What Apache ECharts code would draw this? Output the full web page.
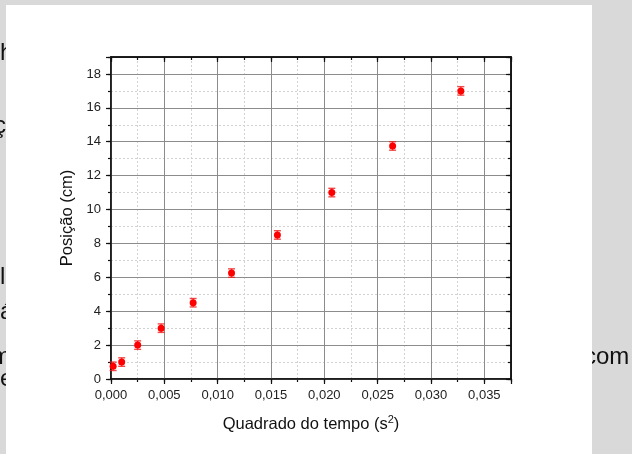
<!DOCTYPE html>
<html>
<head>
<meta charset="utf-8">
<script src="https://cdn.jsdelivr.net/npm/echarts@6/dist/echarts.min.js"></script>
<style>
html, body { margin: 0; padding: 0; background: #d9d9d9; }
#chart { width: 632px; height: 454px; }
</style>
</head>
<body>
<div id="chart"></div>
<script>
// quadrado do tempo (s^2) vs posicao (cm)
var tSquared = [0.0002, 0.001, 0.0025, 0.0047, 0.0077, 0.0113, 0.0156, 0.0207, 0.0264, 0.0328];
var position = [0.75, 1.0, 2.0, 3.0, 4.5, 6.25, 8.5, 11.0, 13.75, 17.0];
var positionErr = [0.25, 0.25, 0.25, 0.25, 0.25, 0.25, 0.25, 0.25, 0.25, 0.25];

// bits of the document text peeking out behind the figure
var pageBits = [
    { text: 'h', x: 0, y: 65 },
    { text: 'ç', x: -6, y: 138 },
    { text: 'le', x: 0, y: 289 },
    { text: 'á', x: 0, y: 324 },
    { text: 'm', x: -9, y: 369 },
    { text: 'e', x: 0, y: 391 },
    { text: 'com', x: 584, y: 369 }
];

var chartDom = document.getElementById('chart');
var myChart = echarts.init(chartDom);

var font = "'Liberation Sans', Arial, sans-serif";

var fmtX = function (v) {
    if (v > 0.036) return '';
    return v.toFixed(3).replace('.', ',');
};
var fmtY = function (v) {
    if (v > 18.5) return '';
    return String(v);
};

function frameAxis(pos, interval, max, tickLen, inside, z) {
    return {
        type: 'value',
        position: pos,
        min: 0,
        max: max,
        interval: interval,
        z: z,
        axisLine: { show: true, onZero: false, lineStyle: { color: '#111', width: 1.5 } },
        axisTick: { show: true, inside: inside, length: tickLen, lineStyle: { color: '#111', width: 1.2 } },
        axisLabel: { show: false },
        splitLine: { show: false }
    };
}

var xMajor = frameAxis('bottom', 0.005, 0.0375, 5, false, 2);
xMajor.axisLabel = { show: true, margin: 10, fontSize: 13, color: '#222', fontFamily: font, formatter: fmtX };
xMajor.splitLine = { show: true, lineStyle: { color: '#8c8c8c', width: 1 } };
xMajor.name = 'Quadrado do tempo (s{sup|2})';
xMajor.nameLocation = 'middle';
xMajor.nameGap = 35;
xMajor.nameTextStyle = {
    fontSize: 16.5, color: '#111', fontFamily: font, lineHeight: 20,
    rich: { sup: { fontSize: 11, color: '#111', fontFamily: font, verticalAlign: 'top', lineHeight: 11 } }
};

var xMinor = frameAxis('bottom', 0.0025, 0.0375, 3, false, 1);
xMinor.splitLine = { show: true, lineStyle: { color: '#d2d2d2', width: 1, type: [2, 2] } };

var yMajor = frameAxis('left', 2, 19, 5, false, 2);
yMajor.axisLabel = { show: true, margin: 10, fontSize: 13, color: '#222', fontFamily: font, formatter: fmtY };
yMajor.splitLine = { show: true, lineStyle: { color: '#8c8c8c', width: 1 } };
yMajor.name = 'Posição (cm)';
yMajor.nameLocation = 'middle';
yMajor.nameGap = 31;
yMajor.nameTextStyle = { fontSize: 16.5, color: '#111', fontFamily: font };

var yMinor = frameAxis('left', 1, 19, 3, false, 1);
yMinor.splitLine = { show: true, lineStyle: { color: '#d2d2d2', width: 1, type: [2, 2] } };

var option = {
    backgroundColor: '#d9d9d9',
    animation: false,
    grid: { left: 111, right: 121, top: 57, bottom: 75 },
    xAxis: [
        xMajor,
        xMinor,
        frameAxis('top', 0.005, 0.0375, 5, true, 2),
        frameAxis('top', 0.0025, 0.0375, 3, true, 2)
    ],
    yAxis: [
        yMajor,
        yMinor,
        frameAxis('right', 2, 19, 5, true, 2),
        frameAxis('right', 1, 19, 3, true, 2)
    ],
    graphic: [
        { type: 'rect', z: -1, silent: true, shape: { x: 6, y: 5, width: 586, height: 449 }, style: { fill: '#ffffff' } }
    ].concat(pageBits.map(function (b) {
        return {
            type: 'text', z: -2, silent: true, x: b.x, y: b.y,
            style: { text: b.text, fill: '#111', font: "24px 'Liberation Sans', Arial, sans-serif", textVerticalAlign: 'bottom' }
        };
    })),
    series: [
        {
            name: 'erro',
            type: 'custom',
            xAxisIndex: 0,
            yAxisIndex: 0,
            z: 3,
            encode: { x: 0, y: [1, 2] },
            data: tSquared.map(function (x, i) {
                return [x, position[i] - positionErr[i], position[i] + positionErr[i]];
            }),
            renderItem: function (params, api) {
                var lo = api.coord([api.value(0), api.value(1)]);
                var hi = api.coord([api.value(0), api.value(2)]);
                var w = 3.5;
                var st = { stroke: 'rgba(240,30,30,0.8)', lineWidth: 1.4 };
                return {
                    type: 'group',
                    children: [
                        { type: 'line', shape: { x1: lo[0], y1: lo[1], x2: hi[0], y2: hi[1] }, style: st },
                        { type: 'line', shape: { x1: lo[0] - w, y1: lo[1], x2: lo[0] + w, y2: lo[1] }, style: st },
                        { type: 'line', shape: { x1: hi[0] - w, y1: hi[1], x2: hi[0] + w, y2: hi[1] }, style: st }
                    ]
                };
            }
        },
        {
            name: 'Posição',
            type: 'scatter',
            xAxisIndex: 0,
            yAxisIndex: 0,
            z: 4,
            symbol: 'circle',
            symbolSize: 7,
            itemStyle: { color: '#ff0000', opacity: 1 },
            data: tSquared.map(function (x, i) { return [x, position[i]]; })
        }
    ]
};

myChart.setOption(option);
</script>
</body>
</html>
